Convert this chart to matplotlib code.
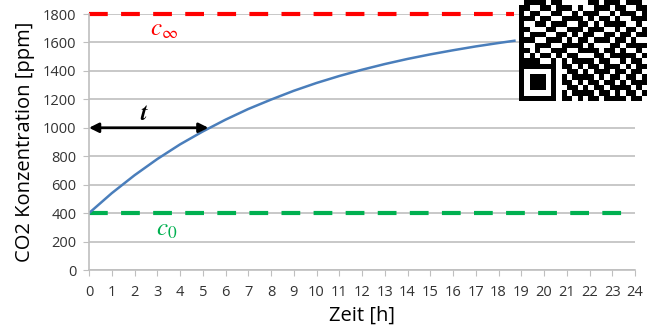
import numpy as np
import matplotlib.pyplot as plt

# curve
zeit = [0, 1, 2, 3, 4, 5, 6, 7, 8, 9, 10, 11, 12, 13, 14, 15, 16, 17, 18, 18.7]
konz = [400, 540, 666, 780, 883, 974, 1057, 1132, 1198, 1260, 1315, 1364, 1408, 1448, 1484, 1516, 1545, 1572, 1596, 1612]

c_inf = 1800
c_0 = 400
c_inf_end = 18.7
c_0_end = 23.75
t_end = 5.25
t_level = 1000

x_ticks = list(range(0, 25))
y_ticks = list(range(0, 1801, 200))

# rough QR code in the corner
qr_rows = [
    "011110110000011011101110",
    "110011011101001110110011",
    "101100110010111001011101",
    "111011001111010110100111",
    "100110111001101011110010",
    "110001100111011100101101",
    "101110011010110011011011",
    "111001110101101110110100",
    "100111001111010001101111",
    "110100111001111011010010",
    "101011010110001101111101",
    "111100101011110110010110",
    "111111101101011011101011",
    "100000100110101110110110",
    "101110101011110101101101",
    "101110101101011011010111",
    "101110100110101101111010",
    "100000101011110110101101",
    "111111101101011011110110",
]

plt.rcParams['font.family'] = ['Open Sans', 'DejaVu Sans']
plt.rcParams['mathtext.fontset'] = 'stix'

W, H = 647, 331
fig = plt.figure(figsize=(W / 100, H / 100), dpi=100)
ax = fig.add_axes([89 / W, 1 - 270 / H, 546 / W, 256 / H])

grid_c = '#BFBFBF'
ax.set_xlim(0, 24)
ax.set_ylim(0, 1800)
ax.set_xticks(x_ticks)
ax.set_yticks(y_ticks)
ax.yaxis.grid(True, color=grid_c, lw=1.2)
ax.set_axisbelow(True)
for s in ['top', 'right']:
    ax.spines[s].set_visible(False)
for s in ['left', 'bottom']:
    ax.spines[s].set_color(grid_c)
    ax.spines[s].set_linewidth(1.2)
ax.tick_params(axis='both', direction='out', length=4, color=grid_c,
               labelsize=10.5, labelcolor='#333333', pad=5)
ax.tick_params(axis='x', pad=7)

ax.plot([0, c_inf_end], [c_inf, c_inf], color='#FF0000', lw=3, dashes=(4.5, 3.2), clip_on=False)
ax.plot([0, c_0_end], [c_0, c_0], color='#00B050', lw=3, dashes=(4.5, 3.2))
ax.plot(zeit, konz, color='#4A7EBB', lw=1.8)

ax.annotate('', xy=(0, t_level), xytext=(t_end, t_level),
            arrowprops=dict(arrowstyle='<|-|>', color='black', lw=2,
                            mutation_scale=14, shrinkA=0, shrinkB=0))

ax.text(3.3, 1690, r'$c_\infty$', color='#FF0000', fontsize=18, ha='center', va='center')
ax.text(3.4, 285, r'$c_0$', color='#00B050', fontsize=18, ha='center', va='center')
ax.text(2.45, 1095, r'$\boldsymbol{t}$', color='black', fontsize=17, ha='center', va='center')

ax.set_xlabel('Zeit [h]', fontsize=14.5, labelpad=4)
ax.set_ylabel('CO2 Konzentration [ppm]', fontsize=14.5, labelpad=6)

qr = np.array([[int(ch) for ch in row] for row in qr_rows])
qax = fig.add_axes([517 / W, 1 - 101 / H, 130 / W, 101 / H])
qax.set_facecolor('white')
qax.imshow(1 - qr, cmap='gray', interpolation='nearest', aspect='auto',
           extent=(0.4, 24.9, 19, 0), vmin=0, vmax=1)
qax.set_xlim(0, 24.9)
qax.set_ylim(19, 0)
qax.axis('off')
qax.patch.set_visible(True)

fig.savefig('out.png', dpi=100)
